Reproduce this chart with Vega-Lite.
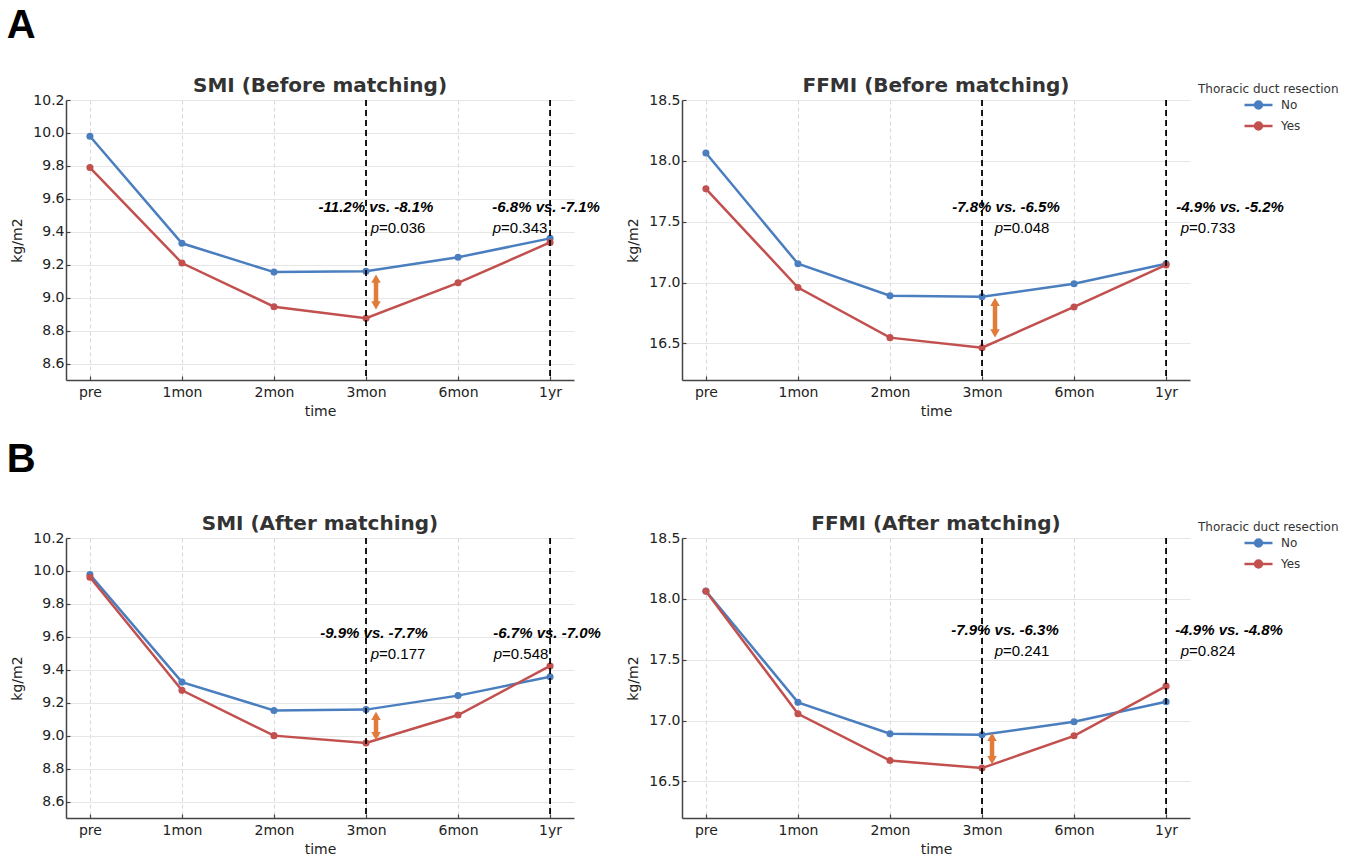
{
  "$schema": "https://vega.github.io/schema/vega-lite/v6.json",
  "background": "white",
  "padding": {"left": 6, "top": 6, "right": 5, "bottom": 5},
  "config": {
    "font": "DejaVu Sans",
    "view": {"stroke": null},
    "title": {"font": "DejaVu Sans", "fontSize": 20, "fontWeight": "bold", "color": "#333333", "offset": -3, "anchor": "middle"},
    "axis": {
      "domainColor": "#444444", "domainWidth": 1.5, "tickColor": "#444444", "tickSize": -4, "tickWidth": 1.2,
      "labelFont": "DejaVu Sans", "labelFontSize": 14, "labelColor": "#222222", "labelPadding": 6,
      "titleFont": "DejaVu Sans", "titleFontSize": 14, "titleFontWeight": "normal", "titleColor": "#222222"
    },
    "axisX": {"gridDash": [4, 3], "gridColor": "#d2d2d2", "gridWidth": 0.9, "labelAngle": 0, "titlePadding": 5, "labelPadding": 9},
    "axisY": {"gridColor": "#e6e6e6", "gridWidth": 1, "titlePadding": 8},
    "legend": {"orient": "none", "legendX": 516, "legendY": -16, "padding": 0, "titleFont": "DejaVu Sans", "titleFontSize": 12, "titleFontWeight": "normal", "titleColor": "#333333", "titlePadding": 2, "labelFont": "DejaVu Sans", "labelFontSize": 12, "labelColor": "#333333", "labelOffset": 7, "symbolSize": 784, "symbolStrokeWidth": 2.5, "symbolOffset": 45, "rowPadding": 7, "clipHeight": 14}
  },
  "datasets": {
    "series": [
      {"panel": "SMI_B", "group": "No", "time": "pre", "value": 9.98},
      {"panel": "SMI_B", "group": "No", "time": "1mon", "value": 9.33},
      {"panel": "SMI_B", "group": "No", "time": "2mon", "value": 9.155},
      {"panel": "SMI_B", "group": "No", "time": "3mon", "value": 9.16},
      {"panel": "SMI_B", "group": "No", "time": "6mon", "value": 9.245},
      {"panel": "SMI_B", "group": "No", "time": "1yr", "value": 9.36},
      {"panel": "SMI_B", "group": "Yes", "time": "pre", "value": 9.79},
      {"panel": "SMI_B", "group": "Yes", "time": "1mon", "value": 9.21},
      {"panel": "SMI_B", "group": "Yes", "time": "2mon", "value": 8.945},
      {"panel": "SMI_B", "group": "Yes", "time": "3mon", "value": 8.875},
      {"panel": "SMI_B", "group": "Yes", "time": "6mon", "value": 9.09},
      {"panel": "SMI_B", "group": "Yes", "time": "1yr", "value": 9.335},
      {"panel": "FFMI_B", "group": "No", "time": "pre", "value": 18.065},
      {"panel": "FFMI_B", "group": "No", "time": "1mon", "value": 17.155},
      {"panel": "FFMI_B", "group": "No", "time": "2mon", "value": 16.892},
      {"panel": "FFMI_B", "group": "No", "time": "3mon", "value": 16.883},
      {"panel": "FFMI_B", "group": "No", "time": "6mon", "value": 16.99},
      {"panel": "FFMI_B", "group": "No", "time": "1yr", "value": 17.155},
      {"panel": "FFMI_B", "group": "Yes", "time": "pre", "value": 17.77},
      {"panel": "FFMI_B", "group": "Yes", "time": "1mon", "value": 16.96},
      {"panel": "FFMI_B", "group": "Yes", "time": "2mon", "value": 16.548},
      {"panel": "FFMI_B", "group": "Yes", "time": "3mon", "value": 16.465},
      {"panel": "FFMI_B", "group": "Yes", "time": "6mon", "value": 16.8},
      {"panel": "FFMI_B", "group": "Yes", "time": "1yr", "value": 17.145},
      {"panel": "SMI_A", "group": "No", "time": "pre", "value": 9.978},
      {"panel": "SMI_A", "group": "No", "time": "1mon", "value": 9.325},
      {"panel": "SMI_A", "group": "No", "time": "2mon", "value": 9.153},
      {"panel": "SMI_A", "group": "No", "time": "3mon", "value": 9.158},
      {"panel": "SMI_A", "group": "No", "time": "6mon", "value": 9.243},
      {"panel": "SMI_A", "group": "No", "time": "1yr", "value": 9.358},
      {"panel": "SMI_A", "group": "Yes", "time": "pre", "value": 9.962},
      {"panel": "SMI_A", "group": "Yes", "time": "1mon", "value": 9.275},
      {"panel": "SMI_A", "group": "Yes", "time": "2mon", "value": 9.0},
      {"panel": "SMI_A", "group": "Yes", "time": "3mon", "value": 8.955},
      {"panel": "SMI_A", "group": "Yes", "time": "6mon", "value": 9.125},
      {"panel": "SMI_A", "group": "Yes", "time": "1yr", "value": 9.423},
      {"panel": "FFMI_A", "group": "No", "time": "pre", "value": 18.065},
      {"panel": "FFMI_A", "group": "No", "time": "1mon", "value": 17.15},
      {"panel": "FFMI_A", "group": "No", "time": "2mon", "value": 16.892},
      {"panel": "FFMI_A", "group": "No", "time": "3mon", "value": 16.883},
      {"panel": "FFMI_A", "group": "No", "time": "6mon", "value": 16.99},
      {"panel": "FFMI_A", "group": "No", "time": "1yr", "value": 17.155},
      {"panel": "FFMI_A", "group": "Yes", "time": "pre", "value": 18.062},
      {"panel": "FFMI_A", "group": "Yes", "time": "1mon", "value": 17.056},
      {"panel": "FFMI_A", "group": "Yes", "time": "2mon", "value": 16.672},
      {"panel": "FFMI_A", "group": "Yes", "time": "3mon", "value": 16.61},
      {"panel": "FFMI_A", "group": "Yes", "time": "6mon", "value": 16.875},
      {"panel": "FFMI_A", "group": "Yes", "time": "1yr", "value": 17.283}
    ],
    "vlines": [
      {"panel": "SMI_B", "time": "3mon", "value": 10.2, "value2": 8.5},
      {"panel": "SMI_B", "time": "1yr", "value": 10.2, "value2": 8.5},
      {"panel": "FFMI_B", "time": "3mon", "value": 18.5, "value2": 16.2},
      {"panel": "FFMI_B", "time": "1yr", "value": 18.5, "value2": 16.2},
      {"panel": "SMI_A", "time": "3mon", "value": 10.2, "value2": 8.5},
      {"panel": "SMI_A", "time": "1yr", "value": 10.2, "value2": 8.5},
      {"panel": "FFMI_A", "time": "3mon", "value": 18.5, "value2": 16.2},
      {"panel": "FFMI_A", "time": "1yr", "value": 18.5, "value2": 16.2}
    ],
    "arrow": [
      {"panel": "SMI_B", "time": "3mon", "end": "top", "value": 9.115},
      {"panel": "SMI_B", "time": "3mon", "end": "bottom", "value": 8.953},
      {"panel": "FFMI_B", "time": "3mon", "end": "top", "value": 16.842},
      {"panel": "FFMI_B", "time": "3mon", "end": "bottom", "value": 16.583},
      {"panel": "SMI_A", "time": "3mon", "end": "top", "value": 9.12},
      {"panel": "SMI_A", "time": "3mon", "end": "bottom", "value": 8.997},
      {"panel": "FFMI_A", "time": "3mon", "end": "top", "value": 16.866},
      {"panel": "FFMI_A", "time": "3mon", "end": "bottom", "value": 16.675}
    ],
    "annot": [
      {"panel": "SMI_B", "time": "3mon", "kind": "change", "label": "-11.2% vs. -8.1%", "value": 9.552},
      {"panel": "SMI_B", "time": "3mon", "kind": "p", "label": "p", "value": 9.424},
      {"panel": "SMI_B", "time": "3mon", "kind": "pval", "label": "=0.036", "value": 9.424},
      {"panel": "SMI_B", "time": "1yr", "kind": "change", "label": "-6.8% vs. -7.1%", "value": 9.552},
      {"panel": "SMI_B", "time": "1yr", "kind": "p", "label": "p", "value": 9.424},
      {"panel": "SMI_B", "time": "1yr", "kind": "pval", "label": "=0.343", "value": 9.424},
      {"panel": "FFMI_B", "time": "3mon", "kind": "change", "label": "-7.8% vs. -6.5%", "value": 17.623},
      {"panel": "FFMI_B", "time": "3mon", "kind": "p", "label": "p", "value": 17.451},
      {"panel": "FFMI_B", "time": "3mon", "kind": "pval", "label": "=0.048", "value": 17.451},
      {"panel": "FFMI_B", "time": "1yr", "kind": "change", "label": "-4.9% vs. -5.2%", "value": 17.623},
      {"panel": "FFMI_B", "time": "1yr", "kind": "p", "label": "p", "value": 17.451},
      {"panel": "FFMI_B", "time": "1yr", "kind": "pval", "label": "=0.733", "value": 17.451},
      {"panel": "SMI_A", "time": "3mon", "kind": "change", "label": "-9.9% vs. -7.7%", "value": 9.623},
      {"panel": "SMI_A", "time": "3mon", "kind": "p", "label": "p", "value": 9.496},
      {"panel": "SMI_A", "time": "3mon", "kind": "pval", "label": "=0.177", "value": 9.496},
      {"panel": "SMI_A", "time": "1yr", "kind": "change", "label": "-6.7% vs. -7.0%", "value": 9.623},
      {"panel": "SMI_A", "time": "1yr", "kind": "p", "label": "p", "value": 9.496},
      {"panel": "SMI_A", "time": "1yr", "kind": "pval", "label": "=0.548", "value": 9.496},
      {"panel": "FFMI_A", "time": "3mon", "kind": "change", "label": "-7.9% vs. -6.3%", "value": 17.744},
      {"panel": "FFMI_A", "time": "3mon", "kind": "p", "label": "p", "value": 17.571},
      {"panel": "FFMI_A", "time": "3mon", "kind": "pval", "label": "=0.241", "value": 17.571},
      {"panel": "FFMI_A", "time": "1yr", "kind": "change", "label": "-4.9% vs. -4.8%", "value": 17.744},
      {"panel": "FFMI_A", "time": "1yr", "kind": "p", "label": "p", "value": 17.571},
      {"panel": "FFMI_A", "time": "1yr", "kind": "pval", "label": "=0.824", "value": 17.571}
    ]
  },
  "resolve": {"legend": {"color": "independent"}},
  "spacing": 22,
  "vconcat": [
    {
      "title": {"text": "A", "anchor": "start", "frame": "bounds", "font": "Liberation Sans", "fontSize": 40, "fontWeight": "bold", "color": "black", "offset": 30, "dx": -4},
      "bounds": "flush",
      "spacing": 108,
      "resolve": {"legend": {"color": "independent"}},
      "hconcat": [
        {
          "width": 508, "height": 280,
          "title": {"text": "SMI (Before matching)"},
          "encoding": {
            "x": {"field": "time", "type": "ordinal", "scale": {"type": "point", "domain": ["pre", "1mon", "2mon", "3mon", "6mon", "1yr"], "padding": 0.26}, "axis": {"title": "time", "grid": true}},
            "y": {"field": "value", "type": "quantitative", "scale": {"domain": [8.5, 10.2], "nice": false, "zero": false}, "axis": {"title": "kg/m2", "values": [8.6, 8.8, 9.0, 9.2, 9.4, 9.6, 9.8, 10.0, 10.2], "format": ".1f", "grid": true}}
          },
          "layer": [
            {"data": {"name": "series"}, "transform": [{"filter": "datum.panel == 'SMI_B'"}], "mark": {"type": "line", "strokeWidth": 2.5},
             "encoding": {"color": {"field": "group", "type": "nominal", "scale": {"domain": ["No", "Yes"], "range": ["#4a7ebf", "#c1504e"]}, "legend": null}}},
            {"data": {"name": "series"}, "transform": [{"filter": "datum.panel == 'SMI_B'"}], "mark": {"type": "circle", "size": 50, "opacity": 1},
             "encoding": {"color": {"field": "group", "type": "nominal", "scale": {"domain": ["No", "Yes"], "range": ["#4a7ebf", "#c1504e"]}, "legend": null}}},
            {"data": {"name": "vlines"}, "transform": [{"filter": "datum.panel == 'SMI_B'"}], "mark": {"type": "rule", "color": "black", "strokeWidth": 1.8, "strokeDash": [6, 4]},
             "encoding": {"y2": {"field": "value2"}}},
            {"data": {"name": "arrow"}, "transform": [{"filter": "datum.panel == 'SMI_B'"}], "mark": {"type": "line", "color": "#e07b39", "strokeWidth": 4.5, "xOffset": 10}, "encoding": {}},
            {"data": {"name": "arrow"}, "transform": [{"filter": "datum.panel == 'SMI_B' && datum.end == 'top'"}], "mark": {"type": "point", "shape": "triangle-up", "filled": true, "size": 90, "color": "#e07b39", "opacity": 1, "xOffset": 10}},
            {"data": {"name": "arrow"}, "transform": [{"filter": "datum.panel == 'SMI_B' && datum.end == 'bottom'"}], "mark": {"type": "point", "shape": "triangle-down", "filled": true, "size": 90, "color": "#e07b39", "opacity": 1, "xOffset": 10}},
            {"data": {"name": "annot"}, "transform": [{"filter": "datum.panel == 'SMI_B' && datum.time == '3mon' && datum.kind == 'change'"}], "mark": {"type": "text", "font": "Liberation Sans", "fontSize": 15, "fontWeight": "bold", "fontStyle": "italic", "align": "center", "baseline": "middle", "dx": 10, "color": "black"}, "encoding": {"text": {"field": "label"}}},
            {"data": {"name": "annot"}, "transform": [{"filter": "datum.panel == 'SMI_B' && datum.time == '3mon' && datum.kind == 'p'"}], "mark": {"type": "text", "font": "Liberation Sans", "fontSize": 15, "fontStyle": "italic", "align": "right", "baseline": "middle", "dx": 13, "color": "black"}, "encoding": {"text": {"field": "label"}}},
            {"data": {"name": "annot"}, "transform": [{"filter": "datum.panel == 'SMI_B' && datum.time == '3mon' && datum.kind == 'pval'"}], "mark": {"type": "text", "font": "Liberation Sans", "fontSize": 15, "align": "left", "baseline": "middle", "dx": 13, "color": "black"}, "encoding": {"text": {"field": "label"}}},
            {"data": {"name": "annot"}, "transform": [{"filter": "datum.panel == 'SMI_B' && datum.time == '1yr' && datum.kind == 'change'"}], "mark": {"type": "text", "font": "Liberation Sans", "fontSize": 15, "fontWeight": "bold", "fontStyle": "italic", "align": "center", "baseline": "middle", "dx": -4, "color": "black"}, "encoding": {"text": {"field": "label"}}},
            {"data": {"name": "annot"}, "transform": [{"filter": "datum.panel == 'SMI_B' && datum.time == '1yr' && datum.kind == 'p'"}], "mark": {"type": "text", "font": "Liberation Sans", "fontSize": 15, "fontStyle": "italic", "align": "right", "baseline": "middle", "dx": -49, "color": "black"}, "encoding": {"text": {"field": "label"}}},
            {"data": {"name": "annot"}, "transform": [{"filter": "datum.panel == 'SMI_B' && datum.time == '1yr' && datum.kind == 'pval'"}], "mark": {"type": "text", "font": "Liberation Sans", "fontSize": 15, "align": "left", "baseline": "middle", "dx": -49, "color": "black"}, "encoding": {"text": {"field": "label"}}}
          ]
        },
        {
          "width": 508, "height": 280,
          "title": {"text": "FFMI (Before matching)", "offset": -12},
          "encoding": {
            "x": {"field": "time", "type": "ordinal", "scale": {"type": "point", "domain": ["pre", "1mon", "2mon", "3mon", "6mon", "1yr"], "padding": 0.26}, "axis": {"title": "time", "grid": true}},
            "y": {"field": "value", "type": "quantitative", "scale": {"domain": [16.2, 18.5], "nice": false, "zero": false}, "axis": {"title": "kg/m2", "values": [16.5, 17.0, 17.5, 18.0, 18.5], "format": ".1f", "grid": true}}
          },
          "layer": [
            {"data": {"name": "series"}, "transform": [{"filter": "datum.panel == 'FFMI_B'"}], "mark": {"type": "line", "strokeWidth": 2.5},
             "encoding": {"color": {"field": "group", "type": "nominal", "scale": {"domain": ["No", "Yes"], "range": ["#4a7ebf", "#c1504e"]},
               "legend": {"title": "Thoracic duct resection", "symbolType": "M-1,0L1,0M0.25,0A0.25,0.25,0,1,1,-0.25,0A0.25,0.25,0,1,1,0.25,0Z"}}}},
            {"data": {"name": "series"}, "transform": [{"filter": "datum.panel == 'FFMI_B'"}], "mark": {"type": "circle", "size": 50, "opacity": 1},
             "encoding": {"color": {"field": "group", "type": "nominal", "scale": {"domain": ["No", "Yes"], "range": ["#4a7ebf", "#c1504e"]},
               "legend": {"title": "Thoracic duct resection", "symbolType": "M-1,0L1,0M0.25,0A0.25,0.25,0,1,1,-0.25,0A0.25,0.25,0,1,1,0.25,0Z"}}}},
            {"data": {"name": "vlines"}, "transform": [{"filter": "datum.panel == 'FFMI_B'"}], "mark": {"type": "rule", "color": "black", "strokeWidth": 1.8, "strokeDash": [6, 4]},
             "encoding": {"y2": {"field": "value2"}}},
            {"data": {"name": "arrow"}, "transform": [{"filter": "datum.panel == 'FFMI_B'"}], "mark": {"type": "line", "color": "#e07b39", "strokeWidth": 4.5, "xOffset": 13}, "encoding": {}},
            {"data": {"name": "arrow"}, "transform": [{"filter": "datum.panel == 'FFMI_B' && datum.end == 'top'"}], "mark": {"type": "point", "shape": "triangle-up", "filled": true, "size": 90, "color": "#e07b39", "opacity": 1, "xOffset": 13}},
            {"data": {"name": "arrow"}, "transform": [{"filter": "datum.panel == 'FFMI_B' && datum.end == 'bottom'"}], "mark": {"type": "point", "shape": "triangle-down", "filled": true, "size": 90, "color": "#e07b39", "opacity": 1, "xOffset": 13}},
            {"data": {"name": "annot"}, "transform": [{"filter": "datum.panel == 'FFMI_B' && datum.time == '3mon' && datum.kind == 'change'"}], "mark": {"type": "text", "font": "Liberation Sans", "fontSize": 15, "fontWeight": "bold", "fontStyle": "italic", "align": "center", "baseline": "middle", "dx": 24, "color": "black"}, "encoding": {"text": {"field": "label"}}},
            {"data": {"name": "annot"}, "transform": [{"filter": "datum.panel == 'FFMI_B' && datum.time == '3mon' && datum.kind == 'p'"}], "mark": {"type": "text", "font": "Liberation Sans", "fontSize": 15, "fontStyle": "italic", "align": "right", "baseline": "middle", "dx": 21, "color": "black"}, "encoding": {"text": {"field": "label"}}},
            {"data": {"name": "annot"}, "transform": [{"filter": "datum.panel == 'FFMI_B' && datum.time == '3mon' && datum.kind == 'pval'"}], "mark": {"type": "text", "font": "Liberation Sans", "fontSize": 15, "align": "left", "baseline": "middle", "dx": 21, "color": "black"}, "encoding": {"text": {"field": "label"}}},
            {"data": {"name": "annot"}, "transform": [{"filter": "datum.panel == 'FFMI_B' && datum.time == '1yr' && datum.kind == 'change'"}], "mark": {"type": "text", "font": "Liberation Sans", "fontSize": 15, "fontWeight": "bold", "fontStyle": "italic", "align": "center", "baseline": "middle", "dx": 64, "color": "black"}, "encoding": {"text": {"field": "label"}}},
            {"data": {"name": "annot"}, "transform": [{"filter": "datum.panel == 'FFMI_B' && datum.time == '1yr' && datum.kind == 'p'"}], "mark": {"type": "text", "font": "Liberation Sans", "fontSize": 15, "fontStyle": "italic", "align": "right", "baseline": "middle", "dx": 23, "color": "black"}, "encoding": {"text": {"field": "label"}}},
            {"data": {"name": "annot"}, "transform": [{"filter": "datum.panel == 'FFMI_B' && datum.time == '1yr' && datum.kind == 'pval'"}], "mark": {"type": "text", "font": "Liberation Sans", "fontSize": 15, "align": "left", "baseline": "middle", "dx": 23, "color": "black"}, "encoding": {"text": {"field": "label"}}}
          ]
        }
      ]
    },
    {
      "title": {"text": "B", "anchor": "start", "frame": "bounds", "font": "Liberation Sans", "fontSize": 40, "fontWeight": "bold", "color": "black", "offset": 34, "dx": -4},
      "bounds": "flush",
      "spacing": 108,
      "resolve": {"legend": {"color": "independent"}},
      "hconcat": [
        {
          "width": 508, "height": 280,
          "title": {"text": "SMI (After matching)"},
          "encoding": {
            "x": {"field": "time", "type": "ordinal", "scale": {"type": "point", "domain": ["pre", "1mon", "2mon", "3mon", "6mon", "1yr"], "padding": 0.26}, "axis": {"title": "time", "grid": true}},
            "y": {"field": "value", "type": "quantitative", "scale": {"domain": [8.5, 10.2], "nice": false, "zero": false}, "axis": {"title": "kg/m2", "values": [8.6, 8.8, 9.0, 9.2, 9.4, 9.6, 9.8, 10.0, 10.2], "format": ".1f", "grid": true}}
          },
          "layer": [
            {"data": {"name": "series"}, "transform": [{"filter": "datum.panel == 'SMI_A'"}], "mark": {"type": "line", "strokeWidth": 2.5},
             "encoding": {"color": {"field": "group", "type": "nominal", "scale": {"domain": ["No", "Yes"], "range": ["#4a7ebf", "#c1504e"]}, "legend": null}}},
            {"data": {"name": "series"}, "transform": [{"filter": "datum.panel == 'SMI_A'"}], "mark": {"type": "circle", "size": 50, "opacity": 1},
             "encoding": {"color": {"field": "group", "type": "nominal", "scale": {"domain": ["No", "Yes"], "range": ["#4a7ebf", "#c1504e"]}, "legend": null}}},
            {"data": {"name": "vlines"}, "transform": [{"filter": "datum.panel == 'SMI_A'"}], "mark": {"type": "rule", "color": "black", "strokeWidth": 1.8, "strokeDash": [6, 4]},
             "encoding": {"y2": {"field": "value2"}}},
            {"data": {"name": "arrow"}, "transform": [{"filter": "datum.panel == 'SMI_A'"}], "mark": {"type": "line", "color": "#e07b39", "strokeWidth": 4.5, "xOffset": 10}, "encoding": {}},
            {"data": {"name": "arrow"}, "transform": [{"filter": "datum.panel == 'SMI_A' && datum.end == 'top'"}], "mark": {"type": "point", "shape": "triangle-up", "filled": true, "size": 90, "color": "#e07b39", "opacity": 1, "xOffset": 10}},
            {"data": {"name": "arrow"}, "transform": [{"filter": "datum.panel == 'SMI_A' && datum.end == 'bottom'"}], "mark": {"type": "point", "shape": "triangle-down", "filled": true, "size": 90, "color": "#e07b39", "opacity": 1, "xOffset": 10}},
            {"data": {"name": "annot"}, "transform": [{"filter": "datum.panel == 'SMI_A' && datum.time == '3mon' && datum.kind == 'change'"}], "mark": {"type": "text", "font": "Liberation Sans", "fontSize": 15, "fontWeight": "bold", "fontStyle": "italic", "align": "center", "baseline": "middle", "dx": 8, "color": "black"}, "encoding": {"text": {"field": "label"}}},
            {"data": {"name": "annot"}, "transform": [{"filter": "datum.panel == 'SMI_A' && datum.time == '3mon' && datum.kind == 'p'"}], "mark": {"type": "text", "font": "Liberation Sans", "fontSize": 15, "fontStyle": "italic", "align": "right", "baseline": "middle", "dx": 13, "color": "black"}, "encoding": {"text": {"field": "label"}}},
            {"data": {"name": "annot"}, "transform": [{"filter": "datum.panel == 'SMI_A' && datum.time == '3mon' && datum.kind == 'pval'"}], "mark": {"type": "text", "font": "Liberation Sans", "fontSize": 15, "align": "left", "baseline": "middle", "dx": 13, "color": "black"}, "encoding": {"text": {"field": "label"}}},
            {"data": {"name": "annot"}, "transform": [{"filter": "datum.panel == 'SMI_A' && datum.time == '1yr' && datum.kind == 'change'"}], "mark": {"type": "text", "font": "Liberation Sans", "fontSize": 15, "fontWeight": "bold", "fontStyle": "italic", "align": "center", "baseline": "middle", "dx": -3, "color": "black"}, "encoding": {"text": {"field": "label"}}},
            {"data": {"name": "annot"}, "transform": [{"filter": "datum.panel == 'SMI_A' && datum.time == '1yr' && datum.kind == 'p'"}], "mark": {"type": "text", "font": "Liberation Sans", "fontSize": 15, "fontStyle": "italic", "align": "right", "baseline": "middle", "dx": -48, "color": "black"}, "encoding": {"text": {"field": "label"}}},
            {"data": {"name": "annot"}, "transform": [{"filter": "datum.panel == 'SMI_A' && datum.time == '1yr' && datum.kind == 'pval'"}], "mark": {"type": "text", "font": "Liberation Sans", "fontSize": 15, "align": "left", "baseline": "middle", "dx": -48, "color": "black"}, "encoding": {"text": {"field": "label"}}}
          ]
        },
        {
          "width": 508, "height": 280,
          "title": {"text": "FFMI (After matching)", "offset": -12},
          "encoding": {
            "x": {"field": "time", "type": "ordinal", "scale": {"type": "point", "domain": ["pre", "1mon", "2mon", "3mon", "6mon", "1yr"], "padding": 0.26}, "axis": {"title": "time", "grid": true}},
            "y": {"field": "value", "type": "quantitative", "scale": {"domain": [16.2, 18.5], "nice": false, "zero": false}, "axis": {"title": "kg/m2", "values": [16.5, 17.0, 17.5, 18.0, 18.5], "format": ".1f", "grid": true}}
          },
          "layer": [
            {"data": {"name": "series"}, "transform": [{"filter": "datum.panel == 'FFMI_A'"}], "mark": {"type": "line", "strokeWidth": 2.5},
             "encoding": {"color": {"field": "group", "type": "nominal", "scale": {"domain": ["No", "Yes"], "range": ["#4a7ebf", "#c1504e"]},
               "legend": {"title": "Thoracic duct resection", "symbolType": "M-1,0L1,0M0.25,0A0.25,0.25,0,1,1,-0.25,0A0.25,0.25,0,1,1,0.25,0Z"}}}},
            {"data": {"name": "series"}, "transform": [{"filter": "datum.panel == 'FFMI_A'"}], "mark": {"type": "circle", "size": 50, "opacity": 1},
             "encoding": {"color": {"field": "group", "type": "nominal", "scale": {"domain": ["No", "Yes"], "range": ["#4a7ebf", "#c1504e"]},
               "legend": {"title": "Thoracic duct resection", "symbolType": "M-1,0L1,0M0.25,0A0.25,0.25,0,1,1,-0.25,0A0.25,0.25,0,1,1,0.25,0Z"}}}},
            {"data": {"name": "vlines"}, "transform": [{"filter": "datum.panel == 'FFMI_A'"}], "mark": {"type": "rule", "color": "black", "strokeWidth": 1.8, "strokeDash": [6, 4]},
             "encoding": {"y2": {"field": "value2"}}},
            {"data": {"name": "arrow"}, "transform": [{"filter": "datum.panel == 'FFMI_A'"}], "mark": {"type": "line", "color": "#e07b39", "strokeWidth": 4.5, "xOffset": 10}, "encoding": {}},
            {"data": {"name": "arrow"}, "transform": [{"filter": "datum.panel == 'FFMI_A' && datum.end == 'top'"}], "mark": {"type": "point", "shape": "triangle-up", "filled": true, "size": 90, "color": "#e07b39", "opacity": 1, "xOffset": 10}},
            {"data": {"name": "arrow"}, "transform": [{"filter": "datum.panel == 'FFMI_A' && datum.end == 'bottom'"}], "mark": {"type": "point", "shape": "triangle-down", "filled": true, "size": 90, "color": "#e07b39", "opacity": 1, "xOffset": 10}},
            {"data": {"name": "annot"}, "transform": [{"filter": "datum.panel == 'FFMI_A' && datum.time == '3mon' && datum.kind == 'change'"}], "mark": {"type": "text", "font": "Liberation Sans", "fontSize": 15, "fontWeight": "bold", "fontStyle": "italic", "align": "center", "baseline": "middle", "dx": 23, "color": "black"}, "encoding": {"text": {"field": "label"}}},
            {"data": {"name": "annot"}, "transform": [{"filter": "datum.panel == 'FFMI_A' && datum.time == '3mon' && datum.kind == 'p'"}], "mark": {"type": "text", "font": "Liberation Sans", "fontSize": 15, "fontStyle": "italic", "align": "right", "baseline": "middle", "dx": 21, "color": "black"}, "encoding": {"text": {"field": "label"}}},
            {"data": {"name": "annot"}, "transform": [{"filter": "datum.panel == 'FFMI_A' && datum.time == '3mon' && datum.kind == 'pval'"}], "mark": {"type": "text", "font": "Liberation Sans", "fontSize": 15, "align": "left", "baseline": "middle", "dx": 21, "color": "black"}, "encoding": {"text": {"field": "label"}}},
            {"data": {"name": "annot"}, "transform": [{"filter": "datum.panel == 'FFMI_A' && datum.time == '1yr' && datum.kind == 'change'"}], "mark": {"type": "text", "font": "Liberation Sans", "fontSize": 15, "fontWeight": "bold", "fontStyle": "italic", "align": "center", "baseline": "middle", "dx": 63, "color": "black"}, "encoding": {"text": {"field": "label"}}},
            {"data": {"name": "annot"}, "transform": [{"filter": "datum.panel == 'FFMI_A' && datum.time == '1yr' && datum.kind == 'p'"}], "mark": {"type": "text", "font": "Liberation Sans", "fontSize": 15, "fontStyle": "italic", "align": "right", "baseline": "middle", "dx": 23, "color": "black"}, "encoding": {"text": {"field": "label"}}},
            {"data": {"name": "annot"}, "transform": [{"filter": "datum.panel == 'FFMI_A' && datum.time == '1yr' && datum.kind == 'pval'"}], "mark": {"type": "text", "font": "Liberation Sans", "fontSize": 15, "align": "left", "baseline": "middle", "dx": 23, "color": "black"}, "encoding": {"text": {"field": "label"}}}
          ]
        }
      ]
    }
  ]
}
